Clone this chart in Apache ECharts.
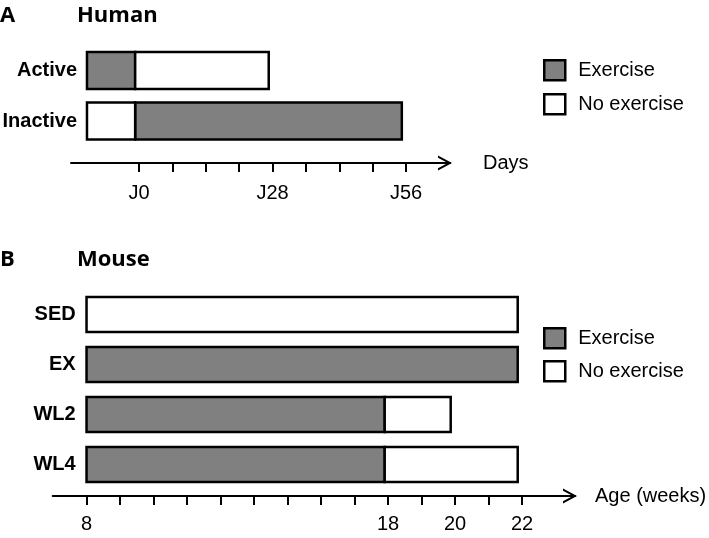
<!DOCTYPE html>
<html>
<head>
<meta charset="utf-8">
<script src="https://cdn.jsdelivr.net/npm/echarts@6/dist/echarts.min.js"></script>
<style>html,body{margin:0;padding:0;background:#fff}#c{width:709px;height:538px}</style>
</head>
<body>
<div id="c"></div>
<script>
// ---- Panel A: Human (x in days relative to J0) ----
const humanGroups = ['Active', 'Inactive'];
const humanExercise = [[0, -10.9, -0.8], [1, -0.8, 55.1]];     // [group, start day, end day]
const humanNoExercise = [[0, -0.8, 27.2], [1, -10.9, -0.8]];
const humanTicks = [0, 7, 14, 21, 28, 35, 42, 49, 56];
const humanTickLabels = [0, 28, 56];

// ---- Panel B: Mouse (x in axis tick positions) ----
const mouseGroups = ['SED', 'EX', 'WL2', 'WL4'];
const mouseTickLabels = ['8', '', '', '', '', '', '', '', '', '18', '', '20', '', '22'];
const mouseExercise = [[1, 0, 12.87], [2, 0, 8.9], [3, 0, 8.9]];  // [group, start, end]
const mouseNoExercise = [[0, 0, 12.87], [2, 8.9, 10.87], [3, 8.9, 12.87]];

const GREY = '#808080';
const FONT = 'Liberation Sans';
const arrowPath = 'path://M7.5,0 L15,14 L12.72,14 L7.5,4.25 L2.28,14 L0,14 Z';

function makeRender(ratio, fill) {
  return function (params, api) {
    const cat = api.value(0), s = api.value(1), e = api.value(2);
    const p0 = api.coord([s, cat]);
    const p1 = api.coord([e, cat]);
    const h = api.size([0, 1])[1] * ratio;
    return {
      type: 'rect',
      shape: { x: p0[0], y: p0[1] - h / 2, width: p1[0] - p0[0], height: h },
      style: { fill: fill, stroke: '#000', lineWidth: 2.5 }
    };
  };
}

function xAxisBase(extra) {
  return Object.assign({
    type: 'value',
    splitLine: { show: false },
    axisLine: { show: true, onZero: false, symbol: ['none', arrowPath], symbolSize: [15, 14], symbolOffset: [0, -5],
      lineStyle: { color: '#000', width: 2 } },
    nameLocation: 'end',
    nameTextStyle: { fontFamily: FONT, fontSize: 20, color: '#000', verticalAlign: 'middle' },
  }, extra);
}

const legendItem = (name, left, top) => ({
  left: left, top: top, orient: 'vertical', selectedMode: false,
  itemWidth: 21, itemHeight: 20, padding: 0,
  textStyle: { fontFamily: FONT, fontSize: 20, color: '#000', padding: [0, 0, 0, 8] },
  data: [{ name: name, icon: 'rect',
    itemStyle: { color: name === 'Exercise' ? GREY : '#fff', borderColor: '#000', borderWidth: 2.5 } }]
});

const titleStyle = { fontFamily: 'Open Sans', fontSize: 22, fontWeight: 'bold', color: '#000' };

const chart = echarts.init(document.getElementById('c'), null, { renderer: 'canvas' });
chart.setOption({
  animation: false,
  backgroundColor: '#fff',
  title: [
    { text: 'A', left: 0, top: 5, padding: 0, textStyle: titleStyle },
    { text: 'Human', left: 77, top: 5, padding: 0, textStyle: titleStyle },
    { text: 'B', left: 0, top: 249, padding: 0, textStyle: titleStyle },
    { text: 'Mouse', left: 77, top: 249, padding: 0, textStyle: titleStyle }
  ],
  legend: [
    legendItem('Exercise', 543, 59),
    legendItem('No exercise', 543, 93),
    legendItem('Exercise', 543, 327),
    legendItem('No exercise', 543, 360)
  ],
  grid: [
    { left: 71, width: 379, top: 45.25, height: 101, outerBoundsMode: 'none' },
    { left: 52.7, width: 522.3, top: 289.5, height: 200, outerBoundsMode: 'none' }
  ],
  xAxis: [
    xAxisBase({
      gridIndex: 0, min: -14.25, max: 65.2, offset: 16.75,
      name: 'Days', nameGap: 33,
      axisTick: { show: true, length: 9, customValues: humanTicks, lineStyle: { color: '#000', width: 2 } },
      axisLabel: { show: true, customValues: humanTickLabels, margin: 20, fontFamily: FONT, fontSize: 20, color: '#000',
        formatter: v => 'J' + v }
    }),
    xAxisBase({
      gridIndex: 1, min: -1.01, max: 14.58, offset: 6.5,
      name: 'Age (weeks)', nameGap: 20,
      axisTick: { show: true, length: 9, customValues: mouseTickLabels.map((_, i) => i), lineStyle: { color: '#000', width: 2 } },
      axisLabel: { show: true, customValues: mouseTickLabels.map((t, i) => t ? i : null).filter(v => v !== null),
        margin: 18, fontFamily: FONT, fontSize: 20, color: '#000',
        formatter: v => mouseTickLabels[Math.round(v)] }
    })
  ],
  yAxis: [
    { gridIndex: 0, type: 'category', data: humanGroups, inverse: true,
      axisLine: { show: false }, axisTick: { show: false }, splitLine: { show: false },
      axisLabel: { margin: -6, fontFamily: FONT, fontSize: 20, fontWeight: 'bold', color: '#000' } },
    { gridIndex: 1, type: 'category', data: mouseGroups, inverse: true,
      axisLine: { show: false }, axisTick: { show: false }, splitLine: { show: false },
      axisLabel: { margin: -23, fontFamily: FONT, fontSize: 20, fontWeight: 'bold', color: '#000' } }
  ],
  series: [
    { type: 'custom', name: 'Exercise', xAxisIndex: 0, yAxisIndex: 0, data: humanExercise,
      encode: { x: [1, 2], y: 0 }, renderItem: makeRender(37 / 50.5, GREY), itemStyle: { color: GREY } },
    { type: 'custom', name: 'No exercise', xAxisIndex: 0, yAxisIndex: 0, data: humanNoExercise,
      encode: { x: [1, 2], y: 0 }, renderItem: makeRender(37 / 50.5, '#fff'), itemStyle: { color: '#fff' } },
    { type: 'custom', name: 'Exercise', xAxisIndex: 1, yAxisIndex: 1, data: mouseExercise,
      encode: { x: [1, 2], y: 0 }, renderItem: makeRender(35 / 50, GREY), itemStyle: { color: GREY } },
    { type: 'custom', name: 'No exercise', xAxisIndex: 1, yAxisIndex: 1, data: mouseNoExercise,
      encode: { x: [1, 2], y: 0 }, renderItem: makeRender(35 / 50, '#fff'), itemStyle: { color: '#fff' } }
  ]
});
</script>
</body>
</html>
